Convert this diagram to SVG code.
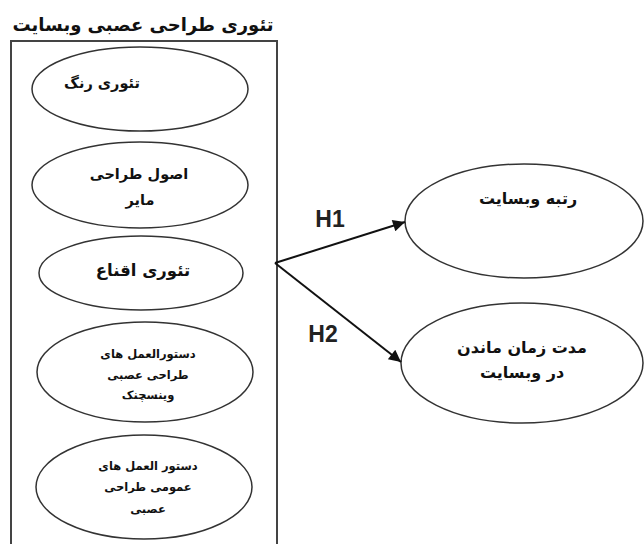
<svg xmlns="http://www.w3.org/2000/svg" width="644" height="544" viewBox="0 0 644 544">
<defs>
<style>
.el{fill:#fff;stroke:#333;stroke-width:1.5}
.fa{font-family:"DejaVu Sans",sans-serif;font-weight:bold;fill:#111;text-anchor:middle;direction:rtl}
.h{font-family:"Liberation Sans",sans-serif;font-weight:bold;font-size:23px;fill:#222;text-anchor:middle}
.cn{fill:none;stroke:#111;stroke-width:2}
</style>
<marker id="arw" viewBox="0 0 10 10" refX="10" refY="5" markerWidth="14" markerHeight="12" orient="auto" markerUnits="userSpaceOnUse">
<path d="M0,0 L10,5 L0,10 z" fill="#111"/>
</marker>
</defs>
<rect width="644" height="544" fill="#fff"/>
<g id="container">
<text class="fa" x="143" y="31" font-size="18">تئوری طراحی عصبی وبسایت</text>
<rect x="11" y="41" width="266" height="510" fill="none" stroke="#444" stroke-width="2"/>
</g>
<g id="n1">
<ellipse class="el" cx="140" cy="89" rx="108" ry="42"/>
<text class="fa" x="102" y="88" font-size="14.5">تئوری رنگ</text>
</g>
<g id="n2">
<ellipse class="el" cx="140" cy="185" rx="108" ry="43"/>
<text class="fa" x="139" y="179" font-size="14.5">اصول طراحی</text>
<text class="fa" x="140" y="205" font-size="14.5">مایر</text>
</g>
<g id="n3">
<ellipse class="el" cx="141" cy="273" rx="102" ry="37"/>
<text class="fa" x="143" y="276" font-size="16.5">تئوری اقناع</text>
</g>
<g id="n4">
<ellipse class="el" cx="145" cy="372" rx="108" ry="50"/>
<text class="fa" x="148" y="358" font-size="11.5">دستورالعمل های</text>
<text class="fa" x="148" y="379" font-size="11.5">طراحی عصبی</text>
<text class="fa" x="148" y="399" font-size="11.5">وینسچنک</text>
</g>
<g id="n5">
<ellipse class="el" cx="144" cy="487" rx="108" ry="52"/>
<text class="fa" x="148" y="470" font-size="11.5">دستور العمل های</text>
<text class="fa" x="148" y="491" font-size="11.5">عمومی طراحی</text>
<text class="fa" x="148" y="513" font-size="11.5">عصبی</text>
</g>
<g id="n6">
<ellipse class="el" cx="524" cy="221" rx="119" ry="57"/>
<text class="fa" x="528" y="204" font-size="16">رتبه وبسایت</text>
</g>
<g id="n7">
<ellipse class="el" cx="522" cy="363" rx="121" ry="60"/>
<text class="fa" x="522" y="353" font-size="16">مدت زمان ماندن</text>
<text class="fa" x="522" y="378" font-size="16">در وبسایت</text>
</g>
<g id="connectors">
<line class="cn" x1="275" y1="263" x2="405" y2="222" marker-end="url(#arw)"/>
<line class="cn" x1="275" y1="263" x2="401" y2="362" marker-end="url(#arw)"/>
<text class="h" x="330" y="227">H1</text>
<text class="h" x="323" y="342">H2</text>
</g>
</svg>
